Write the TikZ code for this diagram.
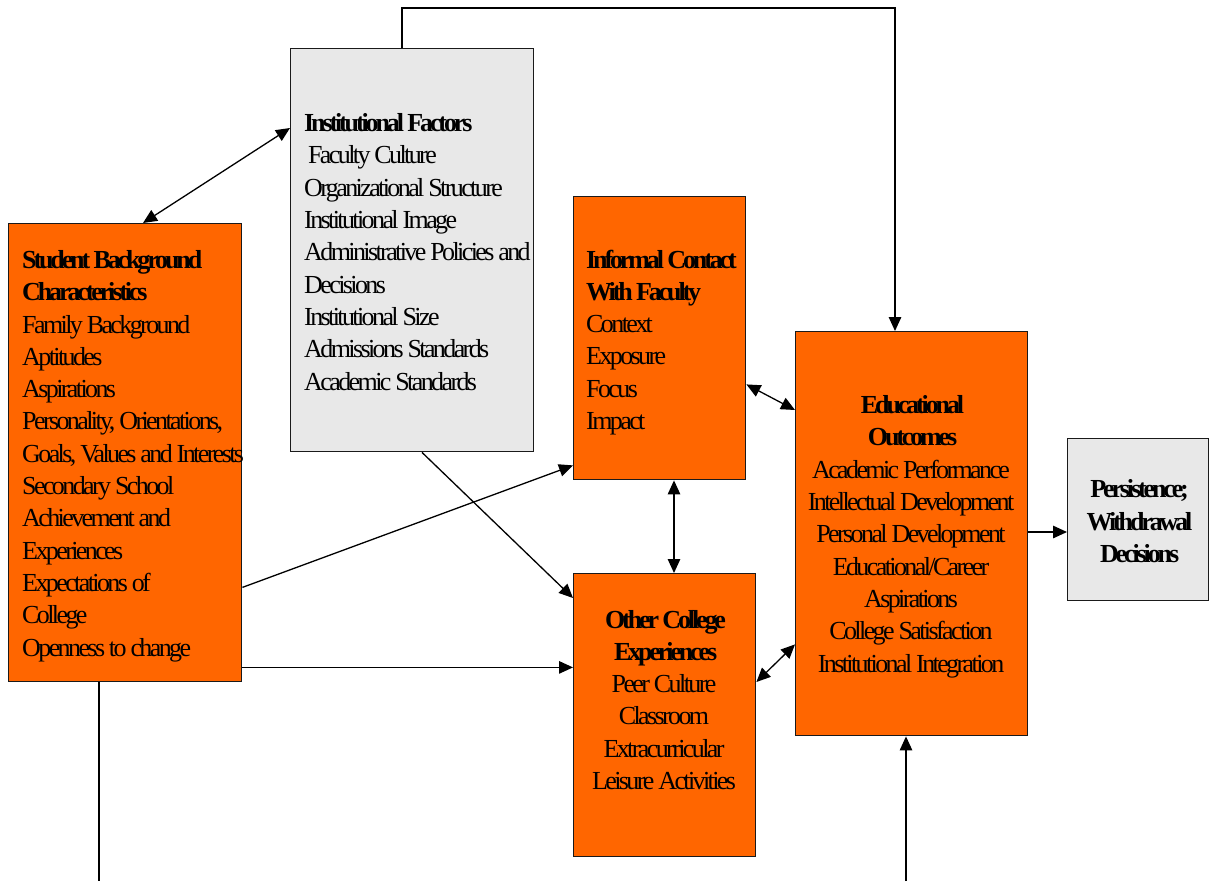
\documentclass[tikz,border=0pt]{standalone}
\usepackage{fontspec}
\setmainfont{Liberation Serif}[LetterSpace=-10, BoldFeatures={LetterSpace=-12}]
\usetikzlibrary{arrows.meta}
\definecolor{boxorange}{HTML}{FF6600}
\definecolor{boxgrey}{HTML}{E8E8E8}
\definecolor{edge}{HTML}{1A1A1A}
\tikzset{
  panel/.style={draw=edge, line width=1.4pt, anchor=north west, inner sep=0pt},
  orangebox/.style={panel, fill=boxorange},
  greybox/.style={panel, fill=boxgrey},
  txt/.style={inner sep=0pt, font=\fontsize{26}{32.3}\selectfont},
  link/.style={draw=black, line width=1.3pt},
  tip/.style={-{Triangle[length=14pt,width=12.5pt]}},
  twotip/.style={{Triangle[length=14pt,width=12.5pt]}-{Triangle[length=14pt,width=12.5pt]}},
}
\begin{document}
\begin{tikzpicture}[x=1pt,y=-1pt]
  \useasboundingbox (0,0) rectangle (1214,881);

  % boxes
  \node[orangebox, minimum width=233pt, minimum height=458pt] (sb) at (8,223) {};
  \node[greybox,   minimum width=243pt, minimum height=403pt] (if) at (290,48) {};
  \node[orangebox, minimum width=172pt, minimum height=283pt] (ic) at (573,196) {};
  \node[orangebox, minimum width=182pt, minimum height=283pt] (oc) at (573,573) {};
  \node[orangebox, minimum width=232pt, minimum height=404pt] (eo) at (795,331) {};
  \node[greybox,   minimum width=141pt, minimum height=162pt] (p)  at (1067,438) {};

  % box texts (placed by the baseline of their last line)
  \node[txt, anchor=base west, align=left] (sbt) at (22,656)
    {\textbf{Student Background}\\ \textbf{Characteristics}\\ Family Background\\
     Aptitudes\\ Aspirations\\ Personality, Orientations,\\ Goals, Values and Interests\\
     Secondary School\\ Achievement and\\ Experiences\\ Expectations of\\ College\\
     Openness to change};
  \node[txt, anchor=base west, align=left] (ift) at (304,390)
    {\textbf{Institutional Factors}\\ \ Faculty Culture\\ Organizational Structure\\
     Institutional Image\\ Administrative Policies and\\ Decisions\\ Institutional Size\\
     Admissions Standards\\ Academic Standards};
  \node[txt, anchor=base west, align=left] (ict) at (586,429.5)
    {\textbf{Informal Contact}\\ \textbf{With Faculty}\\ Context\\ Exposure\\ Focus\\ Impact};
  \node[txt, anchor=base, align=center] (eot) at (911,672)
    {\textbf{Educational}\\ \textbf{Outcomes}\\ Academic Performance\\ Intellectual Development\\
     Personal Development\\ Educational/Career\\ Aspirations\\ College Satisfaction\\
     Institutional Integration};
  \node[txt, anchor=base, align=center] (oct) at (664,789.5)
    {\textbf{Other College}\\ \textbf{Experiences}\\ Peer Culture\\ Classroom\\
     Extracurricular\\ Leisure Activities};
  \node[txt, anchor=base, align=center] (pt) at (1138,562.5)
    {\textbf{Persistence;}\\ \textbf{Withdrawal}\\ \textbf{Decisions}};

  % free ends at the lower edge
  \coordinate (sbfoot) at (99,881);
  \coordinate (eofoot) at (906,881);

  % connectors
  \draw[link,twotip] ([xshift=135pt]sb.north west) -- ([yshift=-80pt]if.north west);
  \draw[link,tip] ([xshift=112pt]if.north west) -- ++(0,-40) -| ([xshift=100pt]eo.north west);
  \draw[link,tip] ([xshift=132pt]if.south west) -- ([yshift=-25pt]oc.north west);
  \draw[link,tip] ([yshift=95pt]sb.south east) -- ([yshift=15pt]ic.south west);
  \draw[link,tip] ([yshift=15pt]sb.south east) -- ([yshift=15pt]sb.south east -| oc.west);
  \draw[link,twotip] ([yshift=96pt]ic.south east) -- ([yshift=-79pt]eo.north west);
  \draw[link,twotip] ([xshift=101pt]ic.south west) -- ([xshift=101pt]oc.north west);
  \draw[link,twotip] ([yshift=-109pt]oc.north east) -- ([yshift=92pt]eo.south west);
  \draw[link,tip] ([yshift=-201pt]eo.north east) -- ([yshift=-201pt]eo.north east -| p.west);
  \draw[link] ([xshift=91pt]sb.south west) -- (sbfoot);
  \draw[link,tip] (eofoot) -- (eofoot |- eo.south);
\end{tikzpicture}
\end{document}
